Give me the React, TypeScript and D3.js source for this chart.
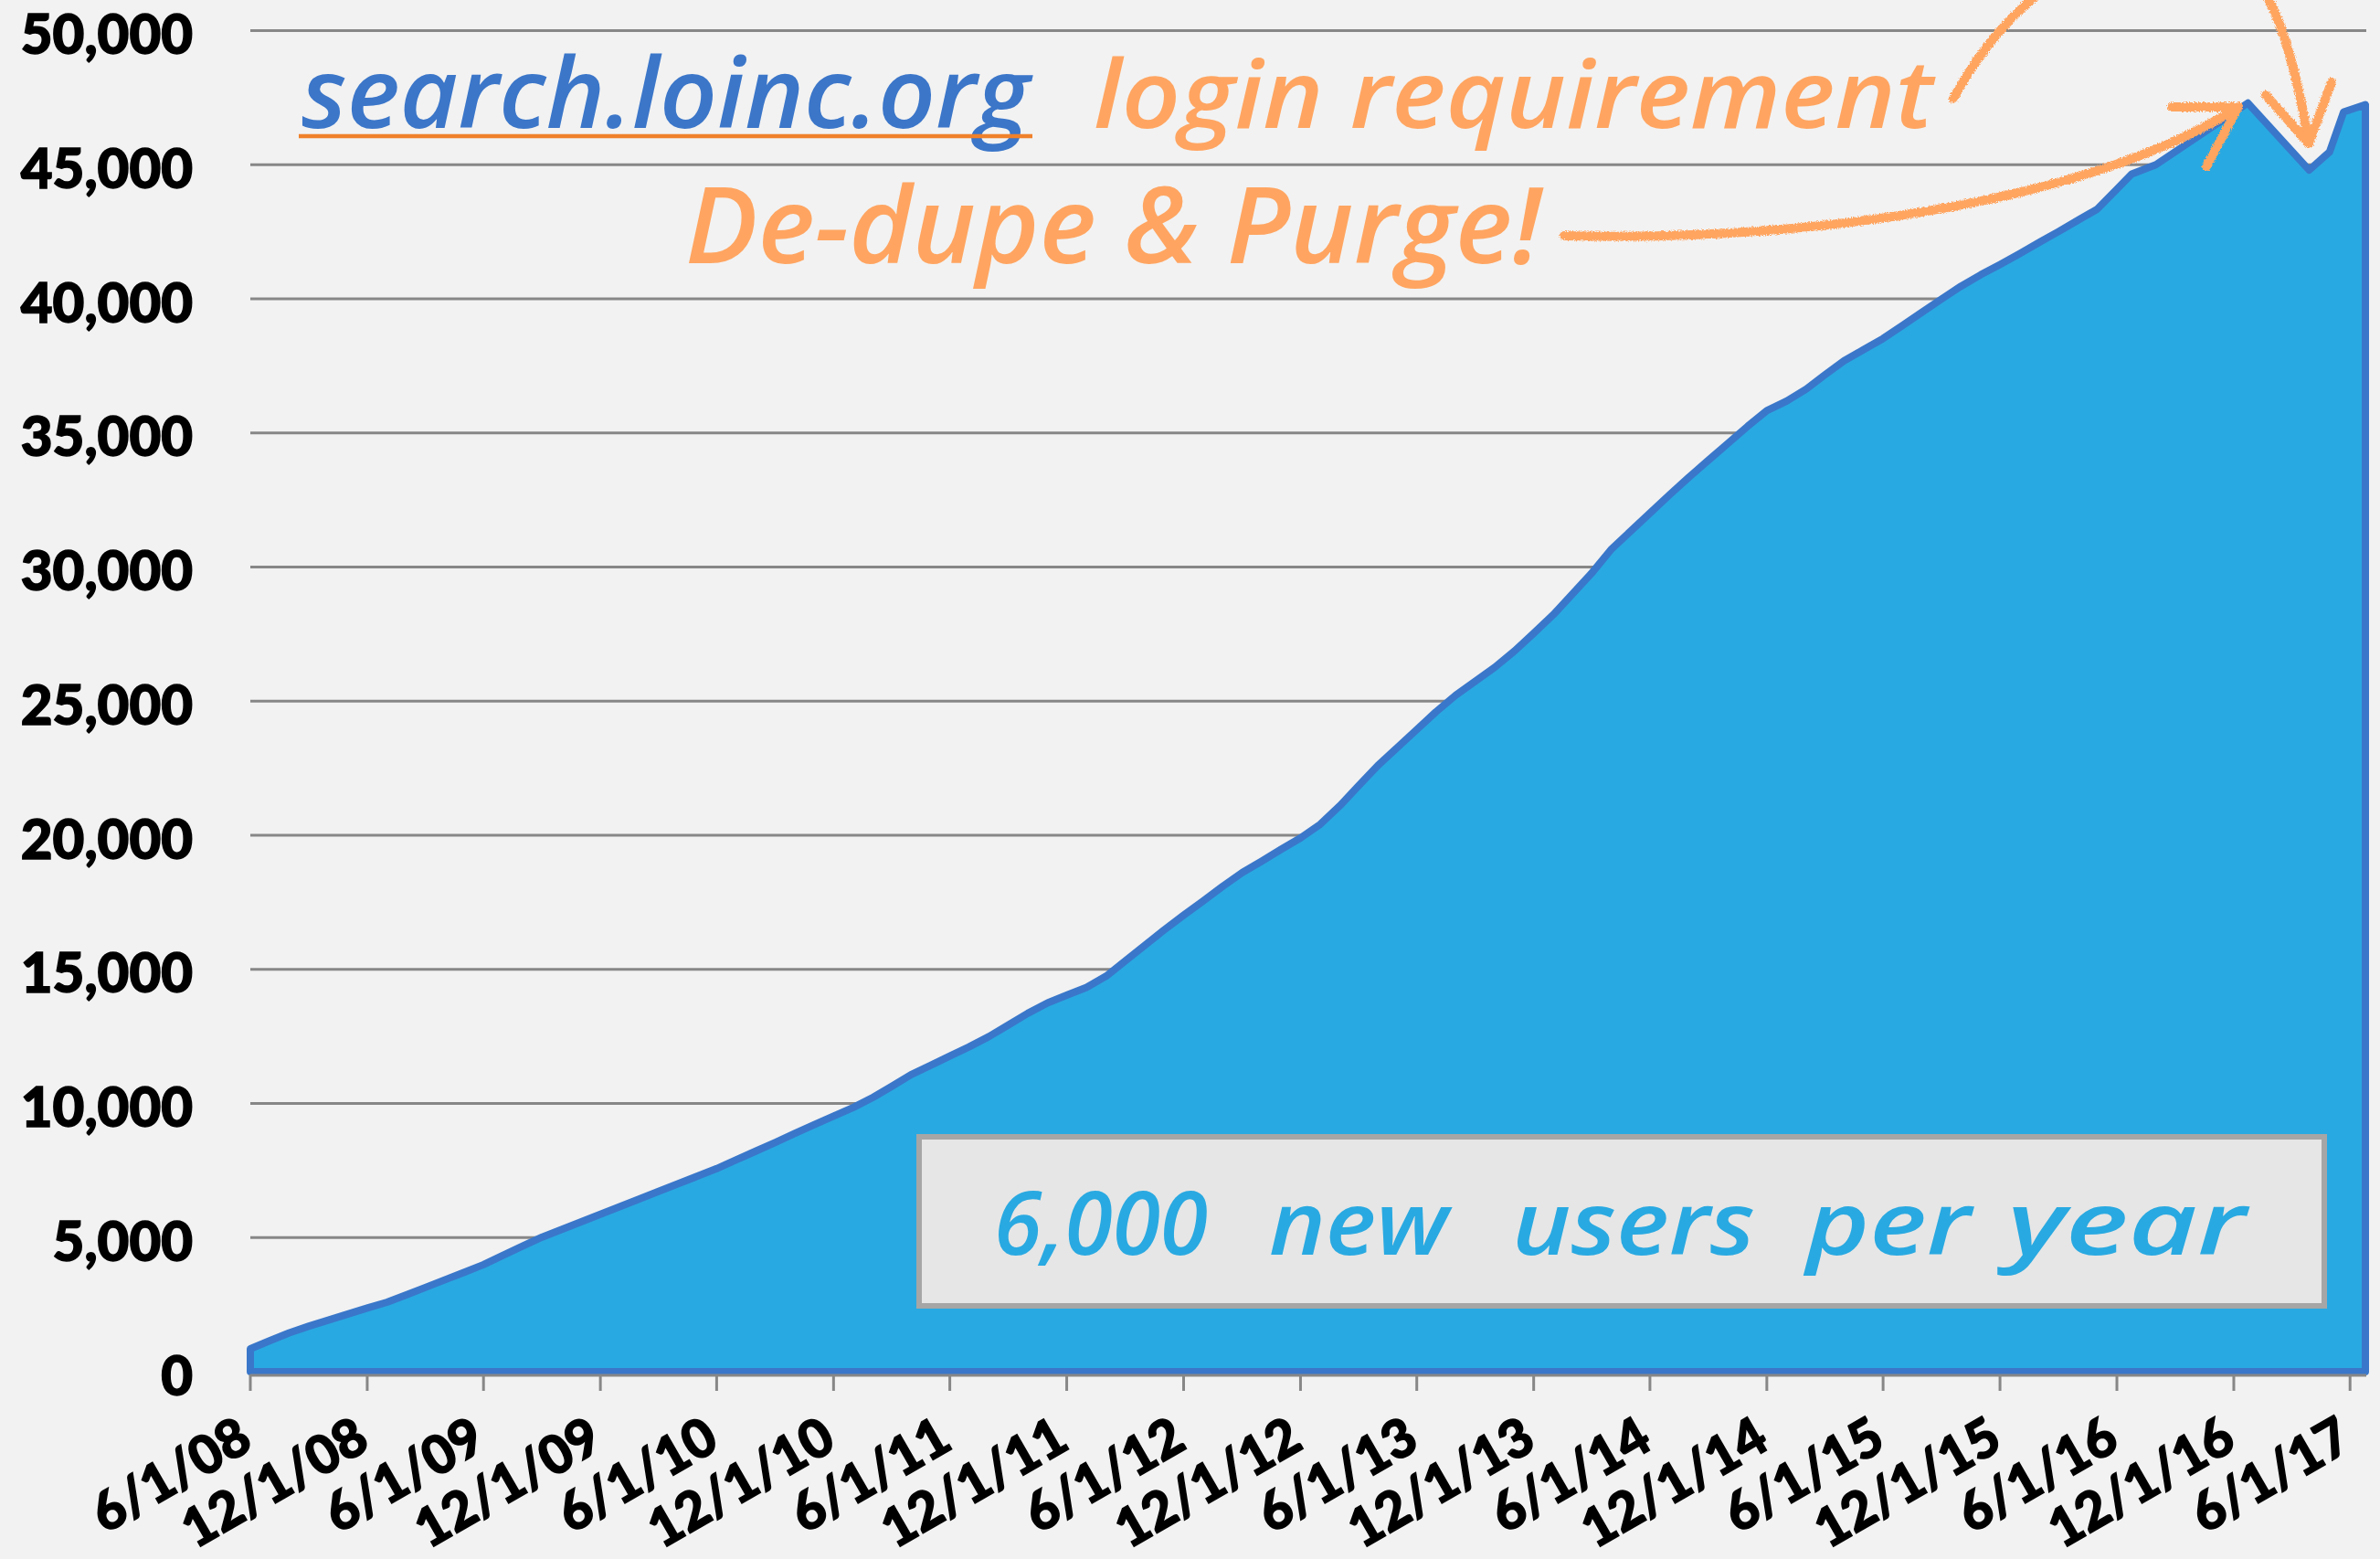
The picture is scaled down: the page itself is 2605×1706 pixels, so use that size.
import React from "react";
import * as d3 from "d3";

// ---- data ----
const dates: string[] = [
  "2008-06-01","2008-07-01","2008-08-01","2008-09-01","2008-10-01","2008-11-01","2008-12-01",
  "2009-01-01","2009-02-01","2009-03-01","2009-04-01","2009-05-01","2009-06-01","2009-07-01",
  "2009-08-01","2009-09-01","2009-10-01","2009-11-01","2009-12-01","2010-01-01","2010-02-01",
  "2010-03-01","2010-04-01","2010-05-01","2010-06-01","2010-07-01","2010-08-01","2010-09-01",
  "2010-10-01","2010-11-01","2010-12-01","2011-01-01","2011-02-01","2011-03-01","2011-04-01",
  "2011-05-01","2011-06-01","2011-07-01","2011-08-01","2011-09-01","2011-10-01","2011-11-01",
  "2011-12-01","2012-01-01","2012-02-01","2012-03-01","2012-04-01","2012-05-01","2012-06-01",
  "2012-07-01","2012-08-01","2012-09-01","2012-10-01","2012-11-01","2012-12-01","2013-01-01",
  "2013-02-01","2013-03-01","2013-04-01","2013-05-01","2013-06-01","2013-07-01","2013-08-01",
  "2013-09-01","2013-10-01","2013-11-01","2013-12-01","2014-01-01","2014-02-01","2014-03-01",
  "2014-04-01","2014-05-01","2014-06-01","2014-07-01","2014-08-01","2014-09-01","2014-10-01",
  "2014-11-01","2014-12-01","2015-01-01","2015-02-01","2015-03-01","2015-04-01","2015-05-01",
  "2015-06-01","2015-07-01","2015-08-01","2015-09-01","2015-10-01","2015-11-01","2015-12-01",
  "2016-01-01","2016-02-01","2016-03-01","2016-04-01","2016-05-01","2016-06-01","2016-06-24",
  "2016-08-01","2016-12-23","2017-03-29","2017-04-30","2017-05-22","2017-06-25",
];
const users: number[] = [
  850, 1150, 1450, 1700, 1920, 2150, 2370,
  2590, 2870, 3130, 3420, 3700, 3990, 4330,
  4680, 5020, 5300, 5590, 5870, 6160, 6450,
  6710, 7000, 7280, 7570, 7890, 8220, 8550,
  8880, 9210, 9530, 9850, 10230, 10620, 11070,
  11410, 11770, 12110, 12490, 12930, 13360, 13750,
  14040, 14330, 14750, 15300, 15890, 16460, 17020,
  17540, 18090, 18610, 19030, 19480, 19900, 20410,
  21110, 21820, 22600, 23260, 23940, 24600, 25220,
  25750, 26260, 26870, 27530, 28230, 29030, 29750,
  30650, 31320, 32010, 32680, 33350, 33990, 34610,
  35250, 35830, 36190, 36640, 37150, 37690, 38100,
  38520, 39000, 39500, 40000, 40470, 40900, 41280,
  41690, 42110, 42500, 42930, 43340, 44090, 44650,
  45000, 47300, 44800, 45480, 46970, 47240,
];
const yTickValues: number[] = [0, 5000, 10000, 15000, 20000, 25000, 30000, 35000, 40000, 45000, 50000];
const xTickStart = "2008-06-01";
const xTickEnd = "2017-06-02";
const boxWords: string[] = ["6,000", "new", "users", "per", "year"];

const parse = d3.timeParse("%Y-%m-%d");
const series = dates.map((d, i) => ({ date: parse(d) as Date, value: users[i] }));

const W = 2605;
const H = 1706;

export default function App() {
  const x = d3.scaleTime()
    .domain([parse("2008-06-01") as Date, parse("2017-06-25") as Date])
    .range([274, 2589]);
  const y = d3.scaleLinear().domain([0, 50000]).range([1501, 33.5]);

  const area = d3.area<{ date: Date; value: number }>()
    .x((d) => x(d.date))
    .y0(y(0))
    .y1((d) => y(d.value));

  const xTicks = d3.timeMonth.range(parse(xTickStart) as Date, parse(xTickEnd) as Date, 6);
  const fmtX = d3.timeFormat("%-m/%-d/%y");
  const fmtY = d3.format(",");

  const grid = "#878787";
  const orange = "#FFA561";
  const hand = "'Open Sans', 'DejaVu Sans', sans-serif";
  const axisFont = { fontFamily: "'Lato Black', Lato, sans-serif", fontWeight: 900 };

  // word layout inside the box
  const wordSpans: [number, number][] = [[1088, 1322], [1389, 1585], [1655, 1921], [1977, 2157], [2197, 2458]];

  return (
    <svg width={W} height={H} style={{ position: "absolute", left: 0, top: 0 }}>
      <defs>
        <filter id="chalk" x="-10%" y="-10%" width="120%" height="120%">
          <feTurbulence type="fractalNoise" baseFrequency="0.8" numOctaves="2" seed="3" result="n" />
          <feDisplacementMap in="SourceGraphic" in2="n" scale="5" xChannelSelector="R" yChannelSelector="G" />
        </filter>
      </defs>
      <rect x={0} y={0} width={W} height={H} fill="#F2F2F2" />

      {/* gridlines */}
      {yTickValues.filter((v) => v > 0).map((v) => (
        <line key={"g" + v} x1={274} x2={2590} y1={y(v)} y2={y(v)} stroke={grid} strokeWidth={3} />
      ))}

      {/* area */}
      <path d={area(series) || ""} fill="#29A9E1" stroke="#3A77CA" strokeWidth={8} strokeLinejoin="round" />

      {/* x axis line and ticks */}
      <line x1={274} x2={2590} y1={1505} y2={1505} stroke={grid} strokeWidth={3} />
      {xTicks.map((t, i) => (
        <line key={"t" + i} x1={x(t)} x2={x(t)} y1={1504} y2={1522} stroke={grid} strokeWidth={3} />
      ))}

      {/* y labels */}
      {yTickValues.map((v) => (
        <text key={"yl" + v} x={211} y={y(v) + 25.5} textAnchor="end"
          style={{ ...axisFont, fontSize: 60 }} fill="#000" stroke="#000" strokeWidth={1.5}>
          {fmtY(v)}
        </text>
      ))}

      {/* x labels */}
      {xTicks.map((t, i) => (
        <text key={"xl" + i} transform={`translate(${x(t) + 5},${1584}) rotate(-30)`} textAnchor="end"
          style={{ ...axisFont, fontSize: 58 }} fill="#000" stroke="#000" strokeWidth={1.5}>
          {fmtX(t)}
        </text>
      ))}

      {/* annotation box */}
      <rect x={1006} y={1244} width={1538} height={185} fill="#E6E6E6" stroke="#A6A6A6" strokeWidth={6} />
      {boxWords.map((w, i) => (
        <text key={"bw" + i} x={wordSpans[i][0]} y={1373} textLength={wordSpans[i][1] - wordSpans[i][0]}
          lengthAdjust="spacingAndGlyphs"
          style={{ fontFamily: hand, fontStyle: "italic", fontWeight: 600, fontSize: 96 }} fill="#29A9E1">
          {w}
        </text>
      ))}

      {/* header annotations */}
      <text x={330} y={140} textLength={797} lengthAdjust="spacingAndGlyphs"
        style={{ fontFamily: hand, fontStyle: "italic", fontWeight: 600, fontSize: 106 }} fill="#3B76C9">
        search.loinc.org
      </text>
      <line x1={327} x2={1130} y1={149} y2={149} stroke="#F0812A" strokeWidth={4.5} />
      <text x={1197} y={140} textLength={919} lengthAdjust="spacingAndGlyphs"
        style={{ fontFamily: hand, fontStyle: "italic", fontWeight: 600, fontSize: 104 }} fill={orange}>
        login requirement
      </text>
      <text x={750} y={288} textLength={937} lengthAdjust="spacingAndGlyphs"
        style={{ fontFamily: hand, fontStyle: "italic", fontWeight: 600, fontSize: 116 }} fill={orange}>
        De-dupe &amp; Purge!
      </text>

      {/* chalk arrows */}
      <g filter="url(#chalk)" fill="none" stroke={orange} strokeWidth={10} strokeLinecap="round" strokeLinejoin="round">
        <path d="M1712,258 C2000,265 2300,215 2450,117" />
        <path d="M2377,117 L2450,117 L2415,182" />
        <path d="M2138,108 C2175,40 2250,-60 2400,-70 C2470,-60 2505,20 2527,157" />
        <path d="M2480,104 L2527,157 L2552,90" />
      </g>
    </svg>
  );
}
